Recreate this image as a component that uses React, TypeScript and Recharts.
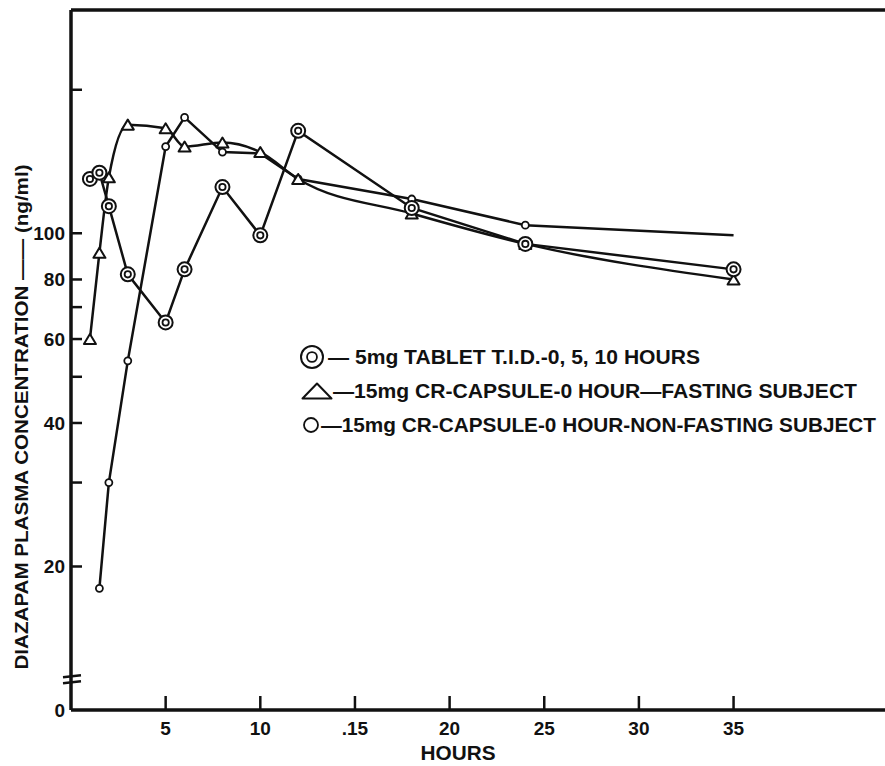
import React from 'react';
import { LineChart, Line, XAxis, YAxis, ReferenceLine } from 'recharts';

// hours after dosing, and plasma levels (ng/ml)
const HOURS = [1, 1.5, 2, 3, 5, 6, 8, 10, 12, 18, 24, 35];
const TABLET = [130, 134, 114, 82, 65, 84, 125, 99, 164, 113, 95, 84];
const FASTING = [60, 91, 131, 169, 166, 152, 155, 148, 130, 110, 95, 80];
const NON_FASTING = [null, 18, 30, 54, 152, 175, 148, 147, 130, 118, 104, 99];

const X_TICKS = [5, 10, 15, 20, 25, 30, 35];
const X_LABELS = ['5', '10', '.15', '20', '25', '30', '35'];
const Y_TICKS = [10, 11.6, 20, 30, 40, 50, 60, 70, 80, 90, 100, 200];
const Y_LABELS: Record<number, string> = { 10: '0', 20: '20', 40: '40', 60: '60', 80: '80', 100: '100' };
const Y_BREAK = 11.6;
const Y_DOMAIN = [10, 294];

const LEGEND = [
  '— 5mg TABLET T.I.D.-0, 5, 10 HOURS',
  '—15mg CR-CAPSULE-0 HOUR—FASTING SUBJECT',
  '—15mg CR-CAPSULE-0 HOUR-NON-FASTING SUBJECT',
];

const INK = '#111';
const FONT = '"Liberation Sans", Arial, sans-serif';

const data = HOURS.map((h, i) => ({
  h,
  tablet: TABLET[i],
  fasting: FASTING[i],
  nonFasting: NON_FASTING[i],
}));

function DoubleCircle({ cx, cy, r = 7 }: any) {
  return (
    <g>
      <circle cx={cx} cy={cy} r={r} fill="#fff" stroke={INK} strokeWidth={2} />
      <circle cx={cx} cy={cy} r={r * 0.45} fill="#fff" stroke={INK} strokeWidth={1.8} />
    </g>
  );
}

function Triangle({ cx, cy, w = 12, h = 10 }: any) {
  return (
    <path
      d={`M${cx - w / 2},${cy + h / 2}L${cx},${cy - h / 2}L${cx + w / 2},${cy + h / 2}Z`}
      fill="#fff"
      stroke={INK}
      strokeWidth={2}
      strokeLinejoin="round"
    />
  );
}

function SmallCircle({ cx, cy, r = 3.5 }: any) {
  return <circle cx={cx} cy={cy} r={r} fill="#fff" stroke={INK} strokeWidth={1.8} />;
}

const tabletDot = (p: any) =>
  p.cy == null ? <g key={p.index} /> : <DoubleCircle key={p.index} cx={p.cx} cy={p.cy} />;
const fastingDot = (p: any) =>
  p.cy == null ? <g key={p.index} /> : <Triangle key={p.index} cx={p.cx} cy={p.cy} />;
// the non-fasting line just ends at the last reading, no marker
const nonFastingDot = (p: any) =>
  p.cy == null || p.index === HOURS.length - 1 ? (
    <g key={p.index} />
  ) : (
    <SmallCircle key={p.index} cx={p.cx} cy={p.cy} />
  );

const Y_MARGIN = 6;
function YTick({ x, y, payload }: any) {
  const ax = x + Y_MARGIN;
  const v = payload.value;
  const label = Y_LABELS[v];
  return (
    <g>
      {v !== 10 && v !== Y_BREAK && (
        <line x1={ax} x2={ax + 11} y1={y} y2={y} stroke={INK} strokeWidth={2.5} />
      )}
      {v === Y_BREAK && (
        <g stroke={INK} strokeWidth={2.5}>
          <line x1={ax - 8} x2={ax + 10} y1={y - 2} y2={y - 4} />
          <line x1={ax - 8} x2={ax + 10} y1={y + 4} y2={y + 2} />
        </g>
      )}
      {label && (
        <text x={x} y={y} dy="0.36em" textAnchor="end" fontFamily={FONT} fontWeight="bold" fontSize={19} fill={INK}>
          {label}
        </text>
      )}
    </g>
  );
}

const X_MARGIN = 12;
function XTick({ x, y, payload }: any) {
  const ay = y - X_MARGIN;
  const i = X_TICKS.indexOf(payload.value);
  return (
    <g>
      <line x1={x} x2={x} y1={ay} y2={ay - 14} stroke={INK} strokeWidth={2.5} />
      <text x={x} y={y + 13} textAnchor="middle" fontFamily={FONT} fontWeight="bold" fontSize={19} fill={INK}>
        {X_LABELS[i]}
      </text>
    </g>
  );
}

function YTitle({ viewBox }: any) {
  const cx = viewBox.x + 22;
  const cy = 417;
  return (
    <text
      x={cx}
      y={cy}
      dy="0.36em"
      transform={`rotate(-90, ${cx}, ${cy})`}
      textAnchor="middle"
      fontFamily={FONT}
      fontWeight="bold"
      fontSize={18}
      fill={INK}
      textLength={505}
      lengthAdjust="spacingAndGlyphs"
    >
      DIAZAPAM PLASMA CONCENTRATION —— (ng/ml)
    </text>
  );
}

function XTitle({ viewBox }: any) {
  return (
    <text
      x={458}
      y={viewBox.y + 50}
      textAnchor="middle"
      fontFamily={FONT}
      fontWeight="bold"
      fontSize={20}
      fill={INK}
      textLength={75}
      lengthAdjust="spacingAndGlyphs"
    >
      HOURS
    </text>
  );
}

function LegendBox() {
  const rows = [357, 391, 425];
  const starts = [328, 333, 321];
  const lengths = [372, 524, 555];
  return (
    <svg width={885} height={766} style={{ position: 'absolute', left: 0, top: 0, pointerEvents: 'none' }}>
      <DoubleCircle cx={312} cy={rows[0]} r={11} />
      <Triangle cx={317} cy={rows[1]} w={29} h={15} />
      <SmallCircle cx={311} cy={rows[2]} r={7} />
      {LEGEND.map((t, i) => (
        <text
          key={t}
          x={starts[i]}
          y={rows[i]}
          dy="0.36em"
          fontFamily={FONT}
          fontWeight="bold"
          fontSize={20}
          fill={INK}
          textLength={lengths[i]}
          lengthAdjust="spacingAndGlyphs"
        >
          {t}
        </text>
      ))}
    </svg>
  );
}

export default function App() {
  return (
    <div style={{ position: 'absolute', left: 0, top: 0, width: 885, height: 766, background: '#fff' }}>
      <style>{'body{margin:0;background:#fff}'}</style>
      <LineChart width={885} height={766} data={data} margin={{ top: 10, right: 0, bottom: 0, left: 0 }}>
        <XAxis
          dataKey="h"
          type="number"
          domain={[0, 43]}
          ticks={X_TICKS}
          height={56}
          tickSize={0}
          tickMargin={X_MARGIN}
          tick={<XTick />}
          axisLine={{ stroke: INK, strokeWidth: 3.5 }}
          tickLine={false}
          label={{ content: XTitle }}
        />
        <YAxis
          scale="log"
          domain={Y_DOMAIN}
          allowDataOverflow
          ticks={Y_TICKS}
          width={71}
          tickSize={0}
          tickMargin={Y_MARGIN}
          tick={<YTick />}
          axisLine={{ stroke: INK, strokeWidth: 3.5 }}
          tickLine={false}
          label={{ content: YTitle }}
        />
        <ReferenceLine y={Y_DOMAIN[1]} stroke={INK} strokeWidth={3.5} />
        <Line
          dataKey="nonFasting"
          stroke={INK}
          strokeWidth={2.5}
          dot={nonFastingDot}
          isAnimationActive={false}
        />
        <Line
          dataKey="fasting"
          type="monotone"
          stroke={INK}
          strokeWidth={2.5}
          dot={fastingDot}
          isAnimationActive={false}
        />
        <Line dataKey="tablet" stroke={INK} strokeWidth={2.5} dot={tabletDot} isAnimationActive={false} />
      </LineChart>
      <LegendBox />
    </div>
  );
}
